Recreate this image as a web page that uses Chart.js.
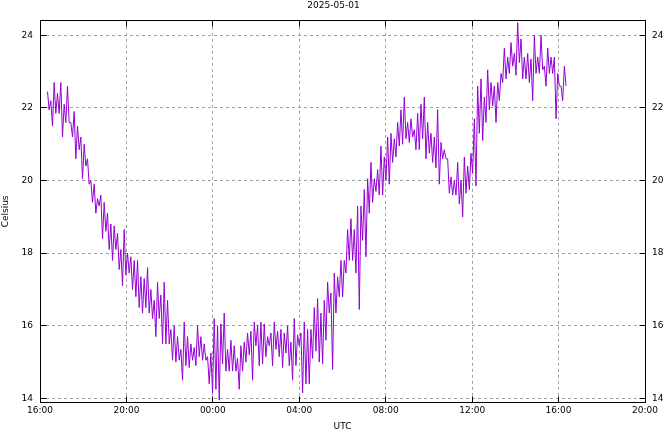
<!DOCTYPE html>
<html>
<head>
<meta charset="utf-8">
<script src="https://cdn.jsdelivr.net/npm/chart.js@4.4.1/dist/chart.umd.min.js"></script>
<style>
  html, body { margin: 0; padding: 0; background: #fff; }
  #wrap { width: 667px; height: 432px; }
</style>
</head>
<body>
<div id="wrap"><canvas id="tempChart"></canvas></div>
<script>
// readings, one every ~4.6 min, starting ~16:21 UTC
const startMinutes = 20.8;
const stepMinutes = 4.63;

const eveningTemps = [
    22.45, 21.95, 22.2, 21.5, 22.7, 21.85, 22.4, 21.85, 22.7, 21.2, 22.1, 21.6,
    22.6, 21.6, 21.6, 21.2, 21.9, 20.6, 21.5, 20.85, 21.2, 20.05, 21.0, 20.4,
    20.6, 19.9, 20.0, 19.4, 19.9, 19.1, 19.5, 19.3, 19.6, 18.4, 19.4, 18.6,
    19.1, 18.1, 18.8, 17.8, 18.75, 18.1, 18.55, 17.55, 18.1, 17.1, 18.65, 17.4,
    18.0, 17.45, 17.9, 17.0, 17.8, 16.8
];
const lateEveningTemps = [
    17.8, 16.5, 17.35, 16.35, 17.3, 16.5, 17.6, 16.35, 17.0, 16.2, 16.7, 15.7,
    17.2, 16.2, 16.85, 15.5, 17.2, 15.5, 16.7, 15.5, 15.9, 15.05, 16.0, 15.0,
    15.7, 15.05, 15.35, 14.5, 16.1, 14.9, 15.7, 14.85, 15.5, 15.05, 15.4, 14.9,
    16.0, 15.15, 15.7, 15.05, 15.5, 15.05, 15.15, 14.4, 15.25, 14.15, 16.2, 14.25,
    16.0, 13.95
];
const nightTemps = [
    16.05, 14.95, 16.35, 14.75, 15.35, 14.75, 15.6, 14.75, 15.45, 14.75, 15.1, 14.25,
    15.45, 14.75, 15.55, 15.0, 15.8, 15.2, 15.85, 14.5, 16.1, 15.45, 16.0, 14.9,
    16.1, 14.95, 16.05, 15.15, 15.7, 15.45, 15.8, 14.9, 16.1, 15.35, 15.85, 15.15,
    15.9, 14.85, 15.8, 15.25, 16.0, 14.9, 15.55, 14.5, 16.2, 14.9, 15.75, 15.45,
    15.8, 14.15, 16.1, 14.4, 15.9, 14.4, 15.9, 15.1, 16.5, 15.3, 16.75, 15.0
];
const morningTemps = [
    16.35, 14.95, 16.7, 15.6, 17.2, 16.35, 16.9, 14.8, 17.45, 16.35, 17.35, 16.8,
    17.8, 16.8, 17.8, 17.45, 18.65, 17.8, 18.95, 17.8, 18.65, 17.45, 19.3, 16.45,
    19.3, 18.35, 19.75, 17.9, 20.05, 19.1, 20.5, 19.4, 20.05, 19.7, 20.3, 19.6
];
const middayTemps = [
    20.95, 19.6, 20.65, 20.0, 21.2, 19.9, 21.3, 20.5, 21.15, 20.65, 21.6, 20.95,
    21.95, 21.0, 22.3, 21.15, 21.6, 21.05, 21.7, 21.2, 21.4, 20.85, 21.85, 20.85,
    22.1, 21.15, 22.3, 20.6, 21.6, 20.75, 21.3, 20.5, 21.2, 20.35, 21.95, 19.9,
    21.05, 20.6, 20.85, 20.6, 20.6, 19.65, 20.1, 19.6, 20.0, 19.6, 20.5, 19.35
];
const afternoonTemps = [
    20.0, 19.0, 20.65, 19.65, 20.4, 19.75, 20.75, 20.2, 21.7, 19.85, 22.6, 21.3,
    22.8, 21.1, 22.3, 21.6, 23.05, 21.95, 22.7, 22.05, 22.6, 21.6, 22.7, 22.2,
    22.95, 22.7, 23.65, 22.8, 23.4, 22.95, 23.8, 23.15, 23.5, 22.9, 24.35, 23.25,
    23.9, 22.8, 23.4, 22.8, 23.5, 22.7, 23.35, 22.2, 24.0, 22.95, 23.4, 22.95,
    24.0, 23.05, 23.15, 22.6, 23.65, 22.95, 23.4, 22.95, 23.4, 21.7, 22.95, 22.6,
    22.6, 22.2, 23.15, 22.6
];

const temps = [...eveningTemps, ...lateEveningTemps, ...nightTemps,
               ...morningTemps, ...middayTemps, ...afternoonTemps];

// x axis in hours since 16:00 on 2025-05-01
const xTickHours = [0, 4, 8, 12, 16, 20, 24, 28];
const xTickLabels = ['16:00', '20:00', '00:00', '04:00', '08:00', '12:00', '16:00', '20:00'];
const yTicks = [14, 16, 18, 20, 22, 24];
const yMin = 13.9;
const yMax = 24.4;

const points = temps.map((t, i) => ({ x: (startMinutes + i * stepMinutes) / 60, y: t }));

const FONT = { family: 'DejaVu Sans', size: 9 };

// gnuplot style border with inward ticks on all four sides
const frame = {
    id: 'frame',
    afterDatasetsDraw(chart) {
        const { ctx, chartArea: a, scales } = chart;
        const L = Math.floor(a.left) + 0.5, R = Math.floor(a.right) + 0.5;
        const T = Math.floor(a.top) + 0.5, B = Math.floor(a.bottom) + 0.5;
        ctx.save();
        ctx.strokeStyle = '#000';
        ctx.lineWidth = 1;
        ctx.setLineDash([]);
        ctx.beginPath();
        xTickHours.forEach(h => {
            const x = Math.floor(scales.x.getPixelForValue(h)) + 0.5;
            ctx.moveTo(x, B); ctx.lineTo(x, B - 6);
            ctx.moveTo(x, T); ctx.lineTo(x, T + 6);
        });
        yTicks.forEach(v => {
            const y = Math.floor(scales.y.getPixelForValue(v)) + 0.5;
            ctx.moveTo(L, y); ctx.lineTo(L + 6, y);
            ctx.moveTo(R, y); ctx.lineTo(R - 6, y);
        });
        ctx.stroke();
        ctx.strokeRect(L, T, R - L, B - T);
        ctx.restore();
    }
};

const gridStyle = { color: '#a0a0a0', lineWidth: 1, drawTicks: false };

new Chart(document.getElementById('tempChart').getContext('2d'), {
    type: 'line',
    data: {
        datasets: [{
            label: 'Temperature',
            data: points,
            borderColor: '#9400d3',
            borderWidth: 1,
            pointRadius: 0,
            tension: 0,
            fill: false
        }]
    },
    options: {
        responsive: true,
        maintainAspectRatio: false,
        animation: false,
        layout: { padding: 0 },
        plugins: {
            legend: { display: false },
            tooltip: { enabled: false },
            title: {
                display: true,
                text: '2025-05-01',
                color: '#000',
                font: { ...FONT, weight: 'normal' },
                padding: { top: 0, bottom: 10 }
            }
        },
        scales: {
            x: {
                type: 'linear',
                min: 0,
                max: 28,
                afterBuildTicks: s => { s.ticks = xTickHours.map(v => ({ value: v })); },
                afterFit: s => { s.height = 30; },
                ticks: {
                    color: '#000',
                    font: FONT,
                    padding: 3,
                    maxRotation: 0,
                    autoSkip: false,
                    callback: v => xTickLabels[xTickHours.indexOf(v)]
                },
                grid: gridStyle,
                border: { display: false, dash: [3, 3] },
                title: { display: true, text: 'UTC', color: '#000', font: FONT, padding: 0 }
            },
            y: {
                type: 'linear',
                position: 'left',
                min: yMin,
                max: yMax,
                afterBuildTicks: s => { s.ticks = yTicks.map(v => ({ value: v })); },
                afterFit: s => { s.width = 40; },
                ticks: { color: '#000', font: FONT, padding: 7 },
                grid: gridStyle,
                border: { display: false, dash: [3, 3] },
                title: { display: true, text: 'Celsius', color: '#000', font: FONT, padding: 0 }
            },
            y2: {
                type: 'linear',
                position: 'right',
                min: yMin,
                max: yMax,
                afterBuildTicks: s => { s.ticks = yTicks.map(v => ({ value: v })); },
                afterFit: s => { s.width = 22; },
                ticks: { color: '#000', font: FONT, padding: 7 },
                grid: { drawOnChartArea: false, drawTicks: false },
                border: { display: false }
            }
        }
    },
    plugins: [frame]
});
</script>
</body>
</html>
